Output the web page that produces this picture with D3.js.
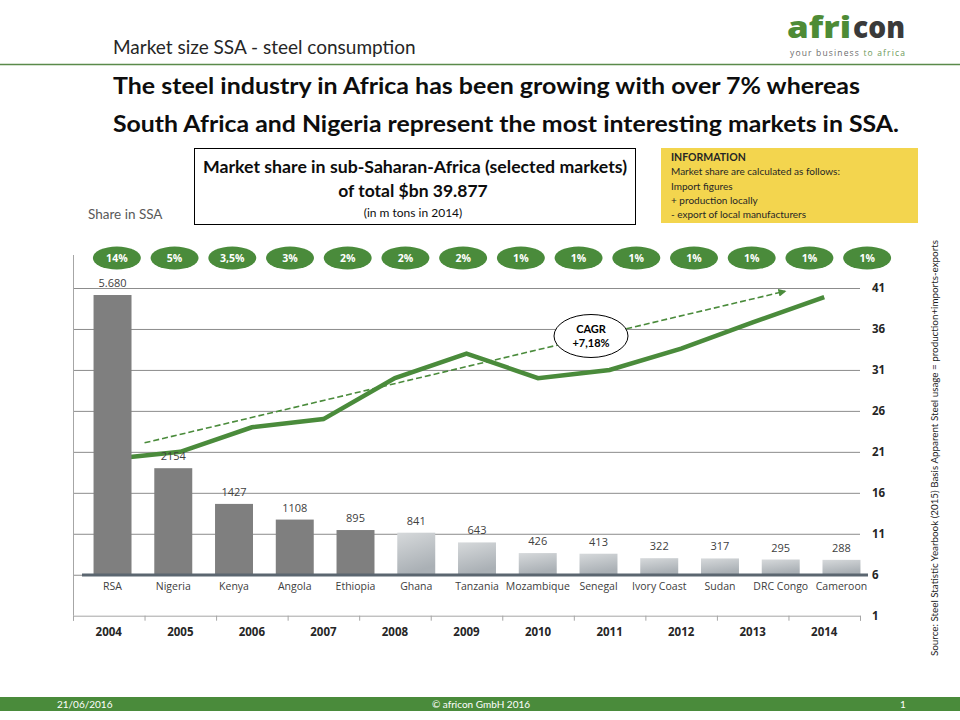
<!DOCTYPE html>
<html>
<head>
<meta charset="utf-8">
<script src="https://cdn.jsdelivr.net/npm/d3@7"></script>
<style>
  body { margin: 0; background: #fff; }
  text { font-family: "Open Sans", sans-serif; }
  .calibri { font-family: Lato, "Open Sans", sans-serif; }
</style>
</head>
<body>
<div id="plot"></div>
<script>
// Chart data
var countries = ["RSA", "Nigeria", "Kenya", "Angola", "Ethiopia", "Ghana", "Tanzania",
  "Mozambique", "Senegal", "Ivory Coast", "Sudan", "DRC Congo", "Cameroon"];
var consumption = [5680, 2154, 1427, 1108, 895, 841, 643, 426, 413, 322, 317, 295, 288];
var consumptionLabels = ["5.680", "2154", "1427", "1108", "895", "841", "643",
  "426", "413", "322", "317", "295", "288"];
var shares = ["14%", "5%", "3,5%", "3%", "2%", "2%", "2%", "1%", "1%", "1%", "1%", "1%", "1%", "1%"];
var years = [2004, 2005, 2006, 2007, 2008, 2009, 2010, 2011, 2012, 2013, 2014];
var marketSize = [20.1, 21, 24, 25, 30, 33, 30, 31, 33.6, 36.8, 39.9];
var rightTicks = [1, 6, 11, 16, 21, 26, 31, 36, 41];
var trendYears = [2004.5, 2013.45];
var trendValues = [22.1, 40.6];

var green = "#4a8b3b";
var svgWidth = 960;
var svgHeight = 720;

var svg = d3.select("#plot")
  .append("svg")
  .attr("width", svgWidth)
  .attr("height", svgHeight);

var defs = svg.append("defs");

// light bars use a silver gradient
var grad = defs.append("linearGradient")
  .attr("id", "silver")
  .attr("x1", "0").attr("y1", "0")
  .attr("x2", "0.3").attr("y2", "1");
grad.append("stop").attr("offset", "0%").attr("stop-color", "#d6d9db");
grad.append("stop").attr("offset", "100%").attr("stop-color", "#aab0b5");

defs.append("marker")
  .attr("id", "arrow")
  .attr("viewBox", "0 0 10 10")
  .attr("refX", 8).attr("refY", 5)
  .attr("markerWidth", 5).attr("markerHeight", 5)
  .attr("orient", "auto")
  .append("path")
  .attr("d", "M0,0L10,5L0,10z")
  .attr("fill", green);

// ---------- header ----------
svg.append("text")
  .attr("class", "calibri")
  .attr("x", 113).attr("y", 54)
  .attr("font-size", "19px")
  .attr("fill", "#262626")
  .text("Market size SSA - steel consumption");

svg.append("line")
  .attr("x1", 0).attr("x2", 960)
  .attr("y1", 64.5).attr("y2", 64.5)
  .attr("stroke", "#5a8a4a")
  .attr("stroke-width", 1.5);

// logo, two words in two colours
var logoParts = [["afri", 787, 64, "#4e8b36"], ["con", 853, 52, "#3a3a3a"]];
svg.selectAll(".logo")
  .data(logoParts)
  .enter()
  .append("text")
  .attr("class", "logo")
  .attr("x", d => d[1]).attr("y", 38)
  .attr("font-family", "Lato, sans-serif")
  .attr("font-size", "30px")
  .attr("font-weight", 900)
  .attr("fill", d => d[3])
  .attr("textLength", d => d[2])
  .attr("lengthAdjust", "spacingAndGlyphs")
  .text(d => d[0]);

var slogan = svg.append("text")
  .attr("x", 790).attr("y", 56)
  .attr("font-size", "8.5px")
  .attr("textLength", 115)
  .attr("lengthAdjust", "spacing");
slogan.append("tspan").attr("fill", "#6d6d6d").text("your business ");
slogan.append("tspan").attr("fill", "#6d9a5a").text("to africa");

// headline
var headline = ["The steel industry in Africa has been growing with over 7% whereas",
  "South Africa and Nigeria represent the most interesting markets in SSA."];
svg.selectAll(".headline")
  .data(headline)
  .enter()
  .append("text")
  .attr("class", "headline calibri")
  .attr("x", 113)
  .attr("y", (d, i) => 94 + i * 38)
  .attr("font-size", "22px")
  .attr("font-weight", "bold")
  .attr("fill", "#0d0d0d")
  .attr("textLength", (d, i) => i === 0 ? 747 : 786)
  .attr("lengthAdjust", "spacingAndGlyphs")
  .text(d => d);

// title box
svg.append("rect")
  .attr("x", 194.5).attr("y", 148.5)
  .attr("width", 441).attr("height", 76)
  .attr("fill", "#fff")
  .attr("stroke", "#000")
  .attr("stroke-width", 1);

svg.append("text").attr("class", "calibri")
  .attr("x", 415).attr("y", 173)
  .attr("text-anchor", "middle")
  .attr("font-size", "17px").attr("font-weight", "bold")
  .attr("fill", "#0d0d0d")
  .attr("textLength", 424)
  .attr("lengthAdjust", "spacingAndGlyphs")
  .text("Market share in sub-Saharan-Africa (selected markets)");
svg.append("text").attr("class", "calibri")
  .attr("x", 413).attr("y", 197)
  .attr("text-anchor", "middle")
  .attr("font-size", "17.5px").attr("font-weight", "bold")
  .attr("fill", "#0d0d0d")
  .text("of total $bn 39.877");
svg.append("text").attr("class", "calibri")
  .attr("x", 413).attr("y", 217)
  .attr("text-anchor", "middle")
  .attr("font-size", "12px")
  .attr("fill", "#0d0d0d")
  .text("(in m tons in 2014)");

// information box
svg.append("rect")
  .attr("x", 661).attr("y", 148)
  .attr("width", 257).attr("height", 75)
  .attr("fill", "#f3d54e");

var infoLines = ["INFORMATION", "Market share are calculated as follows:", "Import figures",
  "+ production locally", "- export of local manufacturers"];
svg.selectAll(".info")
  .data(infoLines)
  .enter()
  .append("text")
  .attr("class", "info calibri")
  .attr("x", 671)
  .attr("y", (d, i) => 161 + i * 14.3)
  .attr("font-size", (d, i) => i === 0 ? "10.5px" : "10px")
  .attr("font-weight", (d, i) => i === 0 ? "bold" : "normal")
  .attr("fill", "#262626")
  .text(d => d);

svg.append("text").attr("class", "calibri")
  .attr("x", 88).attr("y", 219)
  .attr("font-size", "13.5px")
  .attr("fill", "#595959")
  .text("Share in SSA");

// ---------- scales ----------
var xYear = d3.scaleBand().domain(years).range([73, 860]);
var xYearLin = d3.scaleLinear().domain([2003.5, 2014.5]).range([73, 860]);
var yRight = d3.scaleLinear().domain([1, 41]).range([615.7, 288]);

var xCountry = d3.scaleBand()
  .domain(countries)
  .range([82, 872])
  .paddingInner(0.375)
  .paddingOuter(0.19);
var yBar = d3.scaleLinear().domain([0, 6000]).range([574, 279.3]);

var xShare = d3.scaleBand().domain(d3.range(shares.length)).range([88, 896]);

// ---------- grid + axes ----------
var grid = svg.append("g")
  .attr("transform", "translate(860,0)")
  .call(d3.axisLeft(yRight).tickValues(rightTicks.slice(1)).tickSize(787).tickFormat(""));
grid.select(".domain").remove();
grid.selectAll("line").attr("stroke", "#8c8c8c");

var rightAxis = svg.append("g")
  .attr("transform", "translate(860,0)")
  .call(d3.axisRight(yRight).tickValues(rightTicks).tickSize(0).tickPadding(12));
rightAxis.select(".domain").remove();
rightAxis.selectAll("text")
  .attr("font-size", "11.5px")
  .attr("font-weight", "bold")
  .attr("fill", "#262626");

// left vertical line
svg.append("line")
  .attr("x1", 73.5).attr("x2", 73.5)
  .attr("y1", 255).attr("y2", yRight(1))
  .attr("stroke", "#a6a6a6");

// year axis with ticks between the years
var yearTicks = svg.append("g")
  .attr("transform", `translate(0, ${yRight(1)})`)
  .call(d3.axisBottom(xYearLin).tickValues(d3.range(2003.5, 2015, 1)).tickSize(5).tickFormat(""));
yearTicks.selectAll("line, path").attr("stroke", "#a6a6a6");

var yearLabels = svg.append("g")
  .attr("transform", `translate(0, ${yRight(1)})`)
  .call(d3.axisBottom(xYear).tickSize(0).tickPadding(12));
yearLabels.select(".domain").remove();
yearLabels.selectAll("text")
  .attr("font-size", "11.5px")
  .attr("font-weight", "bold")
  .attr("fill", "#262626");

// ---------- market size line ----------
var sizeLine = d3.line()
  .x((d, i) => xYear(years[i]) + xYear.bandwidth() / 2)
  .y(d => yRight(d));

svg.append("path")
  .datum(marketSize)
  .attr("d", sizeLine)
  .attr("fill", "none")
  .attr("stroke", green)
  .attr("stroke-width", 4.5);

// CAGR trend arrow
var trendLine = d3.line()
  .x((d, i) => xYearLin(trendYears[i]))
  .y(d => yRight(d));

svg.append("path")
  .datum(trendValues)
  .attr("d", trendLine)
  .attr("fill", "none")
  .attr("stroke", green)
  .attr("stroke-width", 1.6)
  .attr("stroke-dasharray", "6,3")
  .attr("marker-end", "url(#arrow)");

// ---------- bars ----------
svg.selectAll(".bar")
  .data(consumption)
  .enter()
  .append("rect")
  .attr("class", "bar")
  .attr("x", (d, i) => xCountry(countries[i]))
  .attr("y", d => yBar(d))
  .attr("width", xCountry.bandwidth())
  .attr("height", d => yBar(0) - yBar(d))
  .attr("fill", (d, i) => i < 5 ? "#7f7f7f" : "url(#silver)");

svg.selectAll(".barLabel")
  .data(consumption)
  .enter()
  .append("text")
  .attr("class", "barLabel")
  .attr("x", (d, i) => xCountry(countries[i]) + xCountry.bandwidth() / 2)
  .attr("y", d => yBar(d) - 8)
  .attr("text-anchor", "middle")
  .attr("font-size", "11px")
  .attr("fill", "#404040")
  .text((d, i) => consumptionLabels[i]);

// bar baseline
svg.append("line")
  .attr("x1", 82).attr("x2", 868)
  .attr("y1", yBar(0) + 1).attr("y2", yBar(0) + 1)
  .attr("stroke", "#5b6670")
  .attr("stroke-width", 3);

var countryAxis = svg.append("g")
  .attr("transform", `translate(0, ${yBar(0)})`)
  .call(d3.axisBottom(xCountry).tickSize(0).tickPadding(9));
countryAxis.select(".domain").remove();
countryAxis.selectAll("text")
  .attr("font-size", "10.5px")
  .attr("fill", "#404040");

// ---------- share pills ----------
var pills = svg.selectAll(".pill")
  .data(shares)
  .enter()
  .append("g")
  .attr("class", "pill")
  .attr("transform", (d, i) => `translate(${xShare(i) + xShare.bandwidth() / 2}, 258)`);

pills.append("ellipse")
  .attr("rx", 24).attr("ry", 11.5)
  .attr("fill", green);

pills.append("text")
  .attr("y", 4)
  .attr("text-anchor", "middle")
  .attr("font-size", "10.5px")
  .attr("font-weight", "bold")
  .attr("fill", "#fff")
  .text(d => d);

// ---------- CAGR bubble ----------
var cagr = svg.append("g").attr("transform", "translate(591, 336)");
cagr.append("ellipse")
  .attr("rx", 37).attr("ry", 21.5)
  .attr("fill", "#fff")
  .attr("stroke", "#000")
  .attr("stroke-width", 1);
cagr.append("text").attr("class", "calibri")
  .attr("y", -3).attr("text-anchor", "middle")
  .attr("font-size", "11px").attr("font-weight", "bold")
  .text("CAGR");
cagr.append("text").attr("class", "calibri")
  .attr("y", 11).attr("text-anchor", "middle")
  .attr("font-size", "11px").attr("font-weight", "bold")
  .text("+7,18%");

// source note, rotated
svg.append("text")
  .attr("class", "calibri")
  .attr("transform", "translate(938, 448) rotate(-90)")
  .attr("text-anchor", "middle")
  .attr("font-size", "10px")
  .attr("fill", "#1a1a1a")
  .attr("textLength", 416)
  .attr("lengthAdjust", "spacingAndGlyphs")
  .text("Source: Steel Statistic Yearbook (2015) Basis Apparent Steel usage = production+imports-exports");

// ---------- footer ----------
svg.append("rect")
  .attr("x", 0).attr("y", 697)
  .attr("width", 960).attr("height", 14)
  .attr("fill", green);

var footer = [["21/06/2016", 57, "start"], ["\u00a9 africon GmbH 2016", 481, "middle"], ["1", 903, "middle"]];
svg.selectAll(".footer")
  .data(footer)
  .enter()
  .append("text")
  .attr("class", "footer calibri")
  .attr("x", d => d[1])
  .attr("y", 708)
  .attr("text-anchor", d => d[2])
  .attr("font-size", "10px")
  .attr("fill", "#fff")
  .text(d => d[0]);
</script>
</body>
</html>
